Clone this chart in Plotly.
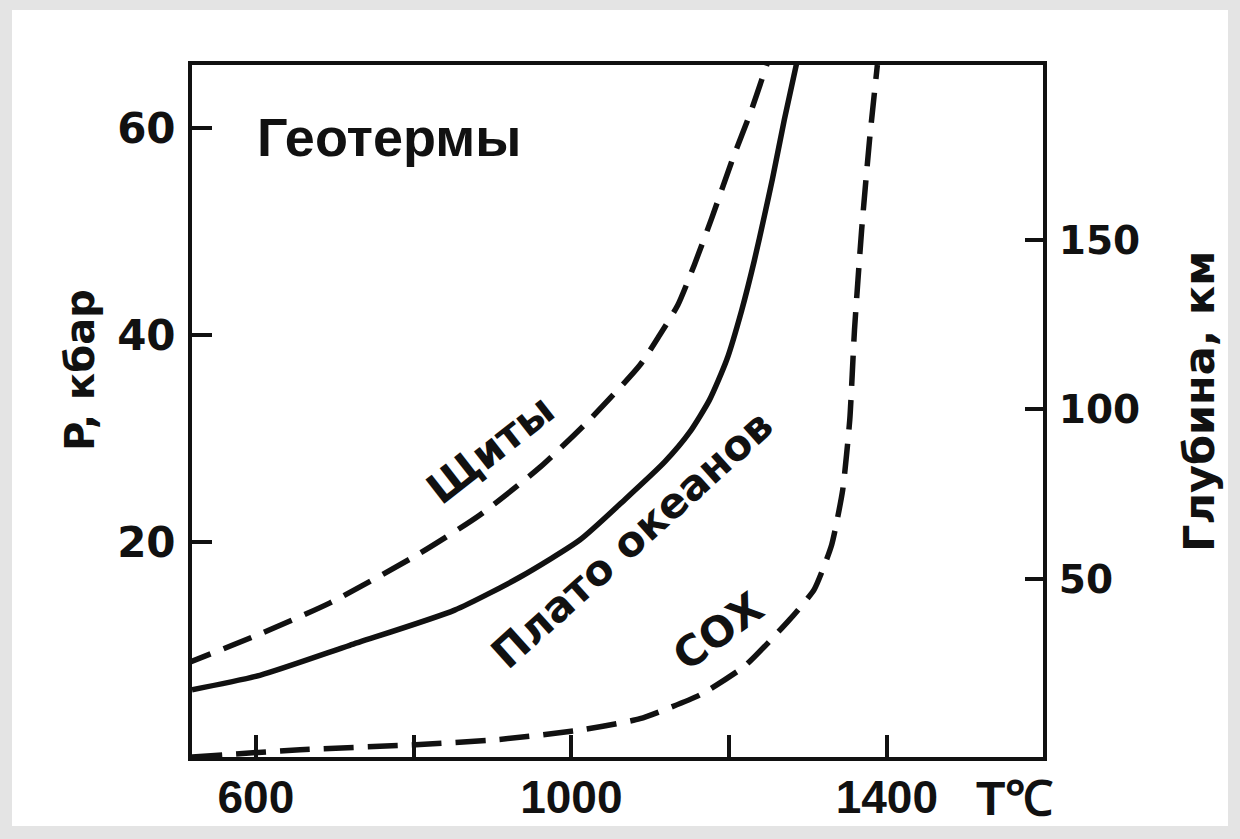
import plotly.graph_objects as go

# Data: T in °C, P in kbar
shield_T = [507, 599, 694, 808, 884, 960, 1023, 1087, 1112, 1135, 1156, 1178, 1203, 1229, 1249]
shield_P = [8.1, 10.9, 14.1, 18.9, 22.6, 27.2, 31.8, 37.1, 40.0, 42.9, 46.8, 51.3, 56.7, 61.9, 66.4]

plateau_T = [519, 605, 719, 852, 935, 1011, 1068, 1118, 1150, 1175, 1197, 1216, 1232, 1245, 1255, 1270, 1286]
plateau_P = [5.7, 7.1, 10.0, 13.4, 16.6, 20.2, 24.1, 27.7, 30.6, 33.7, 37.6, 42.4, 47.2, 51.6, 55.1, 60.8, 66.4]

mor_T = [519, 656, 808, 909, 1011, 1087, 1163, 1220, 1277, 1308, 1330, 1344, 1353, 1359, 1368, 1378, 1388]
mor_P = [-0.8, -0.1, 0.4, 0.9, 1.8, 2.9, 5.2, 8.0, 12.5, 15.4, 19.7, 25.0, 31.8, 40.5, 50.1, 58.8, 66.1]

x_ticks = [600, 800, 1000, 1200, 1400]
x_ticktext = ["600", "", "1000", "", "1400"]
p_ticks = [20, 40, 60]
depth_ticks = [50, 100, 150]

BLACK = "#111111"
W = 1240
H = 839
L, R, T, B = 192, 1043, 65, 757

fig = go.Figure()
fig.add_trace(go.Scatter(x=shield_T, y=shield_P, mode="lines",
                         line=dict(color=BLACK, width=5.5, dash="30px,14px", shape="spline", smoothing=0.6),
                         showlegend=False))
fig.add_trace(go.Scatter(x=plateau_T, y=plateau_P, mode="lines",
                         line=dict(color=BLACK, width=5.5, shape="spline", smoothing=0.6),
                         showlegend=False))
fig.add_trace(go.Scatter(x=mor_T, y=mor_P, mode="lines",
                         line=dict(color=BLACK, width=5.5, dash="30px,14px", shape="spline", smoothing=0.5),
                         showlegend=False))
# invisible trace for the right axis
fig.add_trace(go.Scatter(x=[1000], y=[100], yaxis="y2", mode="markers",
                         marker=dict(opacity=0), showlegend=False, hoverinfo="skip"))

pw = R - L
ph = B - T

def px2paper_x(px):
    return (px - L) / pw

def px2paper_y(py):
    return (B - py) / ph

WIDE = "DejaVu Sans"
fig.update_layout(
    width=W, height=H,
    margin=dict(l=L, r=W - R, t=T, b=H - B, pad=0),
    paper_bgcolor="#e4e4e4",
    plot_bgcolor="white",
    xaxis=dict(range=[519, 1598], tickvals=x_ticks, ticktext=x_ticktext,
               ticks="inside", ticklen=22, tickwidth=4, tickcolor=BLACK,
               showline=True, linewidth=4, linecolor=BLACK, mirror=True,
               showgrid=False, zeroline=False,
               tickfont=dict(family="Liberation Sans", size=46, color=BLACK, weight="bold"),
               ticklabelstandoff=-3),
    yaxis=dict(range=[-0.8, 66.1], tickvals=p_ticks,
               ticks="inside", ticklen=20, tickwidth=4, tickcolor=BLACK,
               showline=True, linewidth=4, linecolor=BLACK, mirror=False,
               showgrid=False, zeroline=False,
               tickfont=dict(family=WIDE, size=42, color=BLACK, weight="bold"),
               ticklabelstandoff=4),
    yaxis2=dict(range=[-2.5, 201.6], tickvals=depth_ticks, overlaying="y", side="right",
                ticks="inside", ticklen=18, tickwidth=4, tickcolor=BLACK,
                showline=True, linewidth=4, linecolor=BLACK,
                showgrid=False, zeroline=False,
                tickfont=dict(family=WIDE, size=39, color=BLACK, weight="bold"),
                ticklabelstandoff=4),
    shapes=[dict(type="rect", xref="paper", yref="paper",
                 x0=px2paper_x(12), x1=px2paper_x(1228),
                 y0=px2paper_y(826), y1=px2paper_y(10),
                 fillcolor="white", line=dict(width=0), layer="below")],
)

ann_font = dict(family=WIDE, color=BLACK, weight="bold")
annotations = [
    dict(text="Геотермы", x=599, y=59.1, xref="x", yref="y", xanchor="left", yanchor="middle",
         showarrow=False, font=dict(family="Liberation Sans", size=54, color=BLACK, weight="bold")),
    dict(text="Щиты", x=897, y=28.9, xref="x", yref="y", textangle=-38,
         xanchor="center", yanchor="middle",
         showarrow=False, font=dict(size=42, **ann_font)),
    dict(text="Плато океанов", x=1077, y=20.2, xref="x", yref="y", textangle=-42,
         xanchor="center", yanchor="middle",
         showarrow=False, font=dict(size=42, **ann_font)),
    dict(text="СОХ", x=1186, y=11.3, xref="x", yref="y", textangle=-36,
         xanchor="center", yanchor="middle",
         showarrow=False, font=dict(size=42, **ann_font)),
    dict(text="P, кбар", x=px2paper_x(80), y=px2paper_y(370), xref="paper", yref="paper",
         xanchor="center", yanchor="middle",
         textangle=-90, showarrow=False, font=dict(size=40, **ann_font)),
    dict(text="Глубина, км", x=px2paper_x(1199), y=px2paper_y(402), xref="paper", yref="paper",
         xanchor="center", yanchor="middle",
         textangle=-90, showarrow=False, font=dict(size=43, **ann_font)),
    dict(text="T℃", x=px2paper_x(974), y=px2paper_y(770), xref="paper", yref="paper",
         xanchor="left", yanchor="top",
         showarrow=False, font=dict(family="Liberation Sans", size=48, color=BLACK, weight="bold")),
]
fig.update_layout(annotations=annotations)

fig.write_html("out.html")
